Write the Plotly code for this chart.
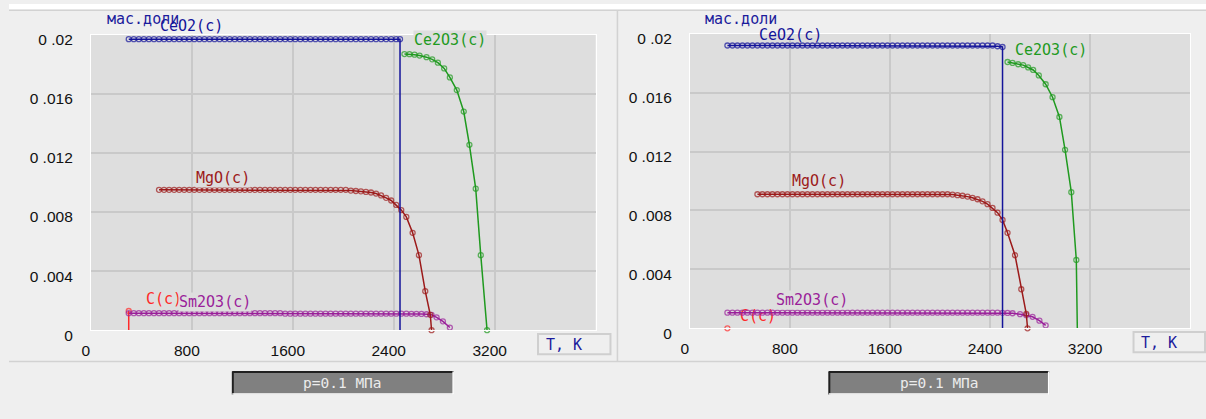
import plotly.graph_objects as go

W, H = 1206, 419

# ---------------- data (T in K, mass fractions) ----------------
T_GRID = [300, 340, 380, 420, 460, 500, 540, 580, 620, 660,
          700, 740, 780, 820, 860, 900, 940, 980, 1020, 1060,
          1100, 1140, 1180, 1220, 1260, 1300, 1340, 1380, 1420, 1460,
          1500, 1540, 1580, 1620, 1660, 1700, 1740, 1780, 1820, 1860,
          1900, 1940, 1980, 2020, 2060, 2100, 2140, 2180, 2220, 2260,
          2300, 2340, 2380, 2420]

X_TICKS = [0, 800, 1600, 2400, 3200]
X_TICKTEXT = ["0", "800", "1600", "2400", "3200"]
Y_TICKS = [0, 0.004, 0.008, 0.012, 0.016, 0.02]
Y_TICKTEXT = ["0", "0 .004", "0 .008", "0 .012", "0 .016", "0 .02"]

# ---- left panel ----
T_CEO2_L = T_GRID + [2450, 2450]
V_CEO2_L = [0.0197, 0.0197, 0.0197, 0.0197, 0.0197, 0.0197, 0.0197, 0.0197, 0.0197, 0.0197,
            0.0197, 0.0197, 0.0197, 0.0197, 0.0197, 0.0197, 0.0197, 0.0197, 0.0197, 0.0197,
            0.0197, 0.0197, 0.0197, 0.0197, 0.0197, 0.0197, 0.0197, 0.0197, 0.0197, 0.0197,
            0.0197, 0.0197, 0.0197, 0.0197, 0.0197, 0.0197, 0.0197, 0.0197, 0.0197, 0.0197,
            0.0197, 0.0197, 0.0197, 0.0197, 0.0197, 0.0197, 0.0197, 0.0197, 0.0197, 0.0197,
            0.0197, 0.0197, 0.0197, 0.0197,
            0.0197, 0.0]

T_MGO_L = T_GRID[6:] + [2460, 2500, 2550, 2600, 2650, 2690, 2700]
V_MGO_L = [0.0095, 0.0095, 0.0095, 0.0095, 0.0095, 0.0095, 0.0095, 0.0095, 0.0095, 0.0095,
           0.0095, 0.0095, 0.0095, 0.0095, 0.0095, 0.0095, 0.0095, 0.0095, 0.0095, 0.0095,
           0.0095, 0.0095, 0.0095, 0.0095, 0.0095, 0.0095, 0.0095, 0.0095, 0.0095, 0.0095,
           0.0095, 0.0095, 0.0095, 0.0095, 0.0095, 0.0095, 0.0095, 0.0095,
           0.00945, 0.00942, 0.0094, 0.00936, 0.00932, 0.00925, 0.00912, 0.00896, 0.00878, 0.00848,
           0.00813, 0.00767, 0.00659, 0.00508, 0.00264, 0.00104, 0.0]

T_SM2O3_L = T_GRID + [2460, 2500, 2540, 2580, 2620, 2660, 2700, 2740, 2790, 2845]
V_SM2O3_L = [0.00115, 0.00115, 0.00115, 0.00115, 0.00115, 0.00115, 0.00115, 0.00115, 0.00115, 0.00115,
             0.00115, 0.00115, 0.00115, 0.00115, 0.00115, 0.00115, 0.00115, 0.00115, 0.00115, 0.00115,
             0.00115, 0.00115, 0.00115, 0.00115, 0.00115, 0.00115, 0.00115, 0.00115, 0.00115, 0.00115,
             0.00115,
             0.00112, 0.00112, 0.00112, 0.00112, 0.00112, 0.00112, 0.00112, 0.00112, 0.00112, 0.00112,
             0.00112, 0.00112, 0.00112, 0.00112, 0.00112, 0.00112, 0.00112, 0.00112, 0.00112, 0.00112,
             0.00112, 0.00112, 0.00112,
             0.00112, 0.00112, 0.00111, 0.00111, 0.0011, 0.00108, 0.00104, 0.00087, 0.0006, 0.00018]

T_CE2O3_L = [2485, 2525, 2565, 2605, 2660, 2705, 2750, 2800, 2845, 2900, 2955, 3000, 3050, 3090, 3140]
V_CE2O3_L = [0.01869, 0.01868, 0.01865, 0.01859, 0.01848, 0.01833, 0.01811, 0.01772, 0.01711,
             0.01625, 0.0148, 0.01255, 0.00958, 0.00508, 0.0]

T_C_L = [300, 300]
V_C_L = [0.0013, 0.0]

# ---- right panel ----
T_CEO2_R = T_GRID + [2460, 2500, 2500]
V_CEO2_R = [0.0192, 0.0192, 0.0192, 0.0192, 0.0192, 0.0192, 0.0192, 0.0192, 0.0192, 0.0192,
            0.0192, 0.0192, 0.0192, 0.0192, 0.0192, 0.0192, 0.0192, 0.0192, 0.0192, 0.0192,
            0.0192, 0.0192, 0.0192, 0.0192, 0.0192, 0.0192, 0.0192, 0.0192, 0.0192, 0.0192,
            0.0192, 0.0192, 0.0192, 0.0192, 0.0192, 0.0192, 0.0192, 0.0192, 0.0192, 0.0192,
            0.0192, 0.0192, 0.0192, 0.0192, 0.0192, 0.0192, 0.0192, 0.0192, 0.0192, 0.0192,
            0.0192, 0.0192, 0.0192, 0.0192,
            0.01915, 0.0191, 0.0]

T_MGO_R = T_GRID[6:] + [2460, 2500, 2540, 2600, 2650, 2690, 2700]
V_MGO_R = [0.0091, 0.0091, 0.0091, 0.0091, 0.0091, 0.0091, 0.0091, 0.0091, 0.0091, 0.0091,
           0.0091, 0.0091, 0.0091, 0.0091, 0.0091, 0.0091, 0.0091, 0.0091, 0.0091, 0.0091,
           0.0091, 0.0091, 0.0091, 0.0091, 0.0091, 0.0091, 0.0091, 0.0091, 0.0091, 0.0091,
           0.0091, 0.0091, 0.0091, 0.0091, 0.0091, 0.0091, 0.0091, 0.0091, 0.0091,
           0.00908, 0.00904, 0.009, 0.00894, 0.00886, 0.00876, 0.00862, 0.00843, 0.00817,
           0.00785, 0.00736, 0.00648, 0.00496, 0.00265, 0.00098, 0.0]

T_SM2O3_R = T_GRID + [2460, 2500, 2540, 2580, 2640, 2690, 2740, 2795, 2845]
V_SM2O3_R = [0.00106, 0.00106, 0.00106, 0.00106, 0.00106, 0.00106, 0.00106, 0.00106, 0.00106, 0.00106,
             0.00106, 0.00106, 0.00106, 0.00106, 0.00106, 0.00106, 0.00106, 0.00106, 0.00106, 0.00106,
             0.00106, 0.00106, 0.00106, 0.00106, 0.00106, 0.00106, 0.00106, 0.00106, 0.00106, 0.00106,
             0.00106, 0.00106, 0.00106, 0.00106, 0.00106, 0.00106, 0.00106, 0.00106, 0.00106, 0.00106,
             0.00106, 0.00106, 0.00106, 0.00106, 0.00106, 0.00106, 0.00106, 0.00106, 0.00106, 0.00106,
             0.00106, 0.00106, 0.00106, 0.00106,
             0.00106, 0.00105, 0.00104, 0.00102, 0.00096, 0.00089, 0.00078, 0.00052, 0.0002]

T_CE2O3_R = [2540, 2580, 2625, 2665, 2705, 2745, 2790, 2845, 2900, 2955, 3000, 3050, 3090, 3098]
V_CE2O3_R = [0.01808, 0.01802, 0.01793, 0.01787, 0.01771, 0.01754, 0.01717, 0.01657, 0.01569,
             0.01435, 0.01212, 0.00924, 0.00464, 0.0]

T_C_R = [300]
V_C_R = [0.0]

# ---------------- styling ----------------
C_CEO2 = "#14149a"
C_CE2O3 = "#1f9a1f"
C_MGO = "#9c1a1a"
C_SM2O3 = "#9a1f9a"
C_C = "#ff2a2a"
C_NAVY = "#1c1c9c"
PLOT_BG = "#dedede"
PANEL_BG = "#efefef"
MONO = "DejaVu Sans Mono"
TICKFONT = dict(family="Liberation Sans", size=15.5, color="#111111")


def px(x):
    return x / W


def py(y):
    return 1 - y / H


fig = go.Figure()


def series(T, V, color, xa, ya, hide_last=False, hide_all_but_first=False):
    n = len(T)
    sizes = [5] * n
    if hide_last:
        sizes[-1] = 0
    if hide_all_but_first:
        sizes = [5] + [0] * (n - 1)
    fig.add_trace(go.Scatter(
        x=T, y=V, mode="lines+markers", xaxis=xa, yaxis=ya,
        line=dict(color=color, width=1.5),
        marker=dict(symbol="circle-open", size=sizes, color=color, line=dict(width=1.3, color=color)),
        cliponaxis=False, hoverinfo="skip"))


# left panel
series(T_C_L, V_C_L, C_C, "x", "y", hide_all_but_first=True)
series(T_SM2O3_L, V_SM2O3_L, C_SM2O3, "x", "y")
series(T_MGO_L, V_MGO_L, C_MGO, "x", "y")
series(T_CE2O3_L, V_CE2O3_L, C_CE2O3, "x", "y")
series(T_CEO2_L, V_CEO2_L, C_CEO2, "x", "y", hide_last=True)

# right panel: C(c) label drawn under the Sm2O3 chain
fig.add_trace(go.Scatter(x=[400], y=[0.00078], mode="text", text=["C(c)"], textposition="middle right",
                         textfont=dict(family=MONO, size=15, color=C_C), xaxis="x2", yaxis="y2",
                         cliponaxis=False, hoverinfo="skip"))
series(T_C_R, V_C_R, C_C, "x2", "y2")
series(T_SM2O3_R, V_SM2O3_R, C_SM2O3, "x2", "y2")
series(T_MGO_R, V_MGO_R, C_MGO, "x2", "y2")
series(T_CE2O3_R, V_CE2O3_R, C_CE2O3, "x2", "y2", hide_last=True)
series(T_CEO2_R, V_CEO2_R, C_CEO2, "x2", "y2", hide_last=True)


def xaxis(dom, anchor):
    return dict(domain=dom, anchor=anchor, range=[0, 4000], tickvals=X_TICKS, ticktext=X_TICKTEXT,
                showgrid=True, gridcolor="#c9c9c9", gridwidth=2, zeroline=False,
                showline=True, linecolor="#ffffff", linewidth=1, mirror=True,
                ticks="", ticklabelshift=-5, ticklabelstandoff=6, tickfont=TICKFONT, fixedrange=True)


def yaxis(dom, anchor):
    return dict(domain=dom, anchor=anchor, range=[0, 0.02], tickvals=Y_TICKS, ticktext=Y_TICKTEXT,
                showgrid=True, gridcolor="#c9c9c9", gridwidth=2, zeroline=False,
                showline=True, linecolor="#ffffff", linewidth=1, mirror=True,
                ticks="", ticklabelshift=5, ticklabelstandoff=14, tickfont=TICKFONT, fixedrange=True)


shapes = []
shapes.append(dict(type="rect", xref="paper", yref="paper", x0=0, x1=1, y0=py(6), y1=1,
                   fillcolor="#ffffff", line=dict(width=0), layer="below"))
shapes.append(dict(type="line", xref="paper", yref="paper", x0=0, x1=1, y0=py(6.5), y1=py(6.5),
                   line=dict(color="#d2d2d2", width=1.5), layer="below"))
shapes.append(dict(type="line", xref="paper", yref="paper", x0=px(613), x1=px(613), y0=py(6.5), y1=py(373),
                   line=dict(color="#d2d2d2", width=1.5), layer="below"))
shapes.append(dict(type="line", xref="paper", yref="paper", x0=0, x1=1, y0=py(372.5), y1=py(372.5),
                   line=dict(color="#d2d2d2", width=1.5), layer="below"))

annotations = []


def label(text, x, y, color, bg="rgba(0,0,0,0)", xanchor="left", size=15, family=MONO):
    annotations.append(dict(text=text, x=px(x), y=py(y), xref="paper", yref="paper",
                            xanchor=xanchor, yanchor="middle", showarrow=False, borderpad=0,
                            bgcolor=bg, font=dict(family=family, size=size, color=color)))


for (bx0, bx1, by0, by1, tx, ty, barx0, barx1) in [
        (533, 606, 344, 365, 540, 355, 225, 448),
        (1133, 1205, 342, 363, 1140, 353, 826, 1048)]:
    shapes.append(dict(type="rect", xref="paper", yref="paper", x0=px(bx0), x1=px(bx1), y0=py(by1), y1=py(by0),
                       fillcolor=PANEL_BG, line=dict(color="#cfcfcf", width=2), layer="below"))
    label("T, K", tx, ty, C_NAVY)
    shapes.append(dict(type="rect", xref="paper", yref="paper", x0=px(barx0), x1=px(barx1), y0=py(407), y1=py(383),
                       fillcolor="#808080", line=dict(width=0), layer="below"))
    shapes.append(dict(type="line", xref="paper", yref="paper", x0=px(barx0), x1=px(barx1), y0=py(383.5), y1=py(383.5),
                       line=dict(color="#202020", width=2), layer="below"))
    shapes.append(dict(type="line", xref="paper", yref="paper", x0=px(barx0 + 0.5), x1=px(barx0 + 0.5), y0=py(383), y1=py(407),
                       line=dict(color="#202020", width=2), layer="below"))
    shapes.append(dict(type="line", xref="paper", yref="paper", x0=px(barx0), x1=px(barx1), y0=py(406.5), y1=py(406.5),
                       line=dict(color="#ffffff", width=1.5), layer="below"))
    shapes.append(dict(type="line", xref="paper", yref="paper", x0=px(barx1 - 0.5), x1=px(barx1 - 0.5), y0=py(383), y1=py(407),
                       line=dict(color="#ffffff", width=1.5), layer="below"))
    label("p=0.1 МПа", (barx0 + barx1) / 2, 395, "#ececec", xanchor="center", size=14.5)

# series labels, left panel
label("мас.доли", 98, 16, C_NAVY)
label("CeO2(c)", 151, 23, C_CEO2)
label("Ce2O3(c)", 407, 38, C_CE2O3, bg=PLOT_BG)
label("MgO(c)", 187, 181, C_MGO, bg=PLOT_BG)
label("C(c)", 137, 307.5, C_C, bg=PLOT_BG)
label("Sm2O3(c)", 170, 311, C_SM2O3, bg=PLOT_BG)
# right panel
label("мас.доли", 700, 16, C_NAVY)
label("CeO2(c)", 755, 32, C_CEO2)
label("Ce2O3(c)", 1013, 47.5, C_CE2O3, bg=PLOT_BG)
label("MgO(c)", 788, 184, C_MGO, bg=PLOT_BG)
label("Sm2O3(c)", 772, 308.5, C_SM2O3, bg=PLOT_BG)

fig.update_layout(
    width=W, height=H, margin=dict(l=0, r=0, t=0, b=0),
    paper_bgcolor=PANEL_BG, plot_bgcolor=PLOT_BG, showlegend=False,
    xaxis=xaxis([px(82.5), px(591)], "y"),
    yaxis=yaxis([py(340), py(32)], "x"),
    xaxis2=xaxis([px(686), px(1190)], "y2"),
    yaxis2=yaxis([py(338), py(31)], "x2"),
    shapes=shapes, annotations=annotations,
)

fig.write_html(
    "out.html",
    config={"displayModeBar": False},
    post_script="document.body.style.background='#efefef';",
)
